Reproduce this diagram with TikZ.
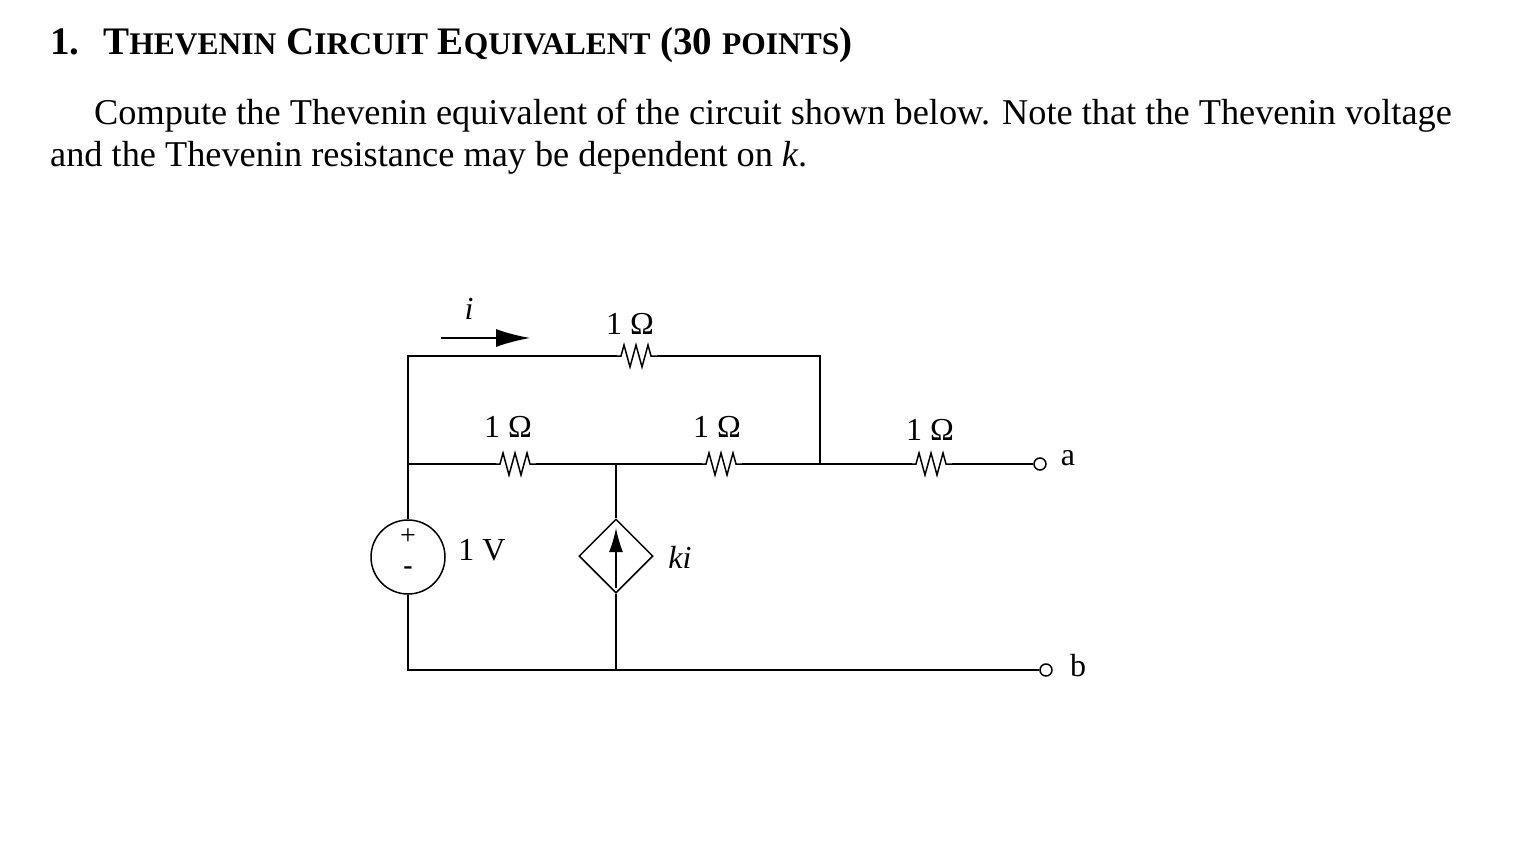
\documentclass[tikz,border=0pt]{standalone}
\usepackage{fontspec}
\setmainfont{Liberation Serif}
\usetikzlibrary{arrows.meta,shapes.geometric}
\newcommand{\bigsm}[2]{#1{\fontsize{31.5}{31.5}\selectfont #2}}
\newcommand{\zig}[2]{\draw[wire] (#1-20,#2) -- (#1-16,#2) -- (#1-13,#2-11) -- (#1-7,#2+11) -- (#1-1,#2-11) -- (#1+5,#2+11) -- (#1+11,#2-11) -- (#1+14,#2) -- (#1+20,#2);}
\begin{document}
\begin{tikzpicture}[x=1pt,y=-1pt,
  wire/.style={line width=1.5pt,line join=miter},
  lab/.style={font=\fontsize{32}{32}\selectfont,inner sep=0pt},
  term/.style={circle,draw,line width=1.5pt,fill=white,minimum size=12pt,inner sep=0pt}]
\useasboundingbox (0,0) rectangle (1527,854);
\node[anchor=base west,inner sep=0pt,font=\fontsize{39}{39}\selectfont\bfseries] (title) at (50,54) {1.\hspace{24pt}\bigsm{T}{HEVENIN} \bigsm{C}{IRCUIT} \bigsm{E}{QUIVALENT} (30 \bigsm{}{POINTS})};
\node[anchor=base west,inner sep=0pt,font=\fontsize{36.3}{36.3}\selectfont] (l1) at (94,124) {Compute the Thevenin equivalent of the circuit shown below. Note that the Thevenin voltage};
\node[anchor=base west,inner sep=0pt,font=\fontsize{36.3}{36.3}\selectfont] (l2) at (50,166) {and the Thevenin resistance may be dependent on \textit{k}.};
% coordinates
\coordinate (tl) at (408,356);
\coordinate (tr) at (820,356);
\coordinate (ml) at (408,464);
\coordinate (mm) at (616,464);
\coordinate (mr) at (820,464);
\coordinate (bl) at (408,670);
\coordinate (bm) at (616,670);
\node[term] (a) at (1040,464) {};
\node[term] (b) at (1046,670) {};
\node[circle,draw,line width=1.5pt,minimum size=74pt,inner sep=0pt] (vs) at (408,557) {};
\node[diamond,draw,line width=1.5pt,minimum size=74pt,inner sep=0pt,shape aspect=1] (cs) at (616,556) {};
% wires
\draw[wire] (vs.north) -- (ml) -- (tl) -- (617,356);
\zig{637}{356}
\draw[wire] (657,356) -- (tr) -- (mr);
\draw[wire] (ml) -- (496,464); \zig{516}{464} \draw[wire] (536,464) -- (702,464);
\zig{722}{464} \draw[wire] (742,464) -- (912,464);
\zig{932}{464} \draw[wire] (952,464) -- (a.west);
\draw[wire] (mm) -- (cs.north);
\draw[wire] (cs.south) -- (bm);
\draw[wire] (vs.south) -- (bl) -- (b.west);
\draw[line width=1.5pt,-{Latex[length=24pt,width=14pt]}] (616,588) -- (616,528);
\node[lab,font=\fontsize{28}{28}\selectfont] (plus) at (408,537) {+};
\node[lab,font=\fontsize{28}{28}\selectfont\bfseries] (minus) at (408,571) {-};
% labels
\node[lab] (r1) at (630,324) {1 Ω};
\node[lab] (r2) at (508,427) {1 Ω};
\node[lab] (r3) at (717,427) {1 Ω};
\node[lab] (r4) at (930,430) {1 Ω};
\node[lab] (v) at (482,550) {1 V};
\node[lab] (ki) at (680,557) {\textit{ki}};
\node[lab] (i) at (469,309) {\textit{i}};
\node[lab] (la) at (1068,458) {a};
\node[lab] (lb) at (1078,666) {b};
\coordinate (i1) at (441,338);
\coordinate (i2) at (530,338);
\draw[line width=1.5pt,-{Latex[length=34pt,width=18pt]}] (i1) -- (i2);
\end{tikzpicture}
\end{document}
